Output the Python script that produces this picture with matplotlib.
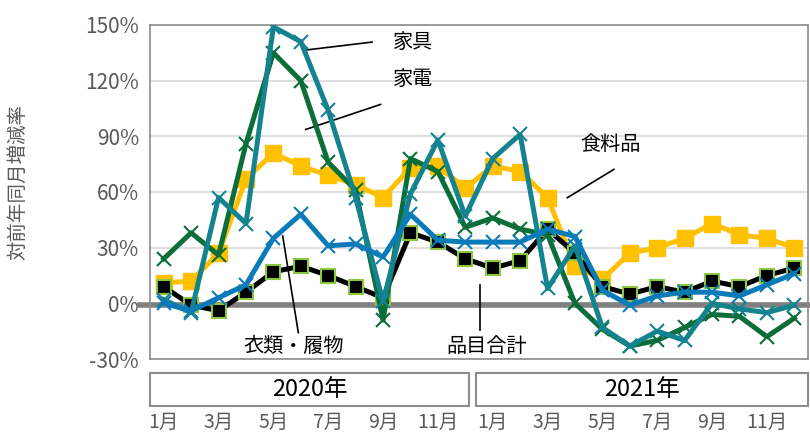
import numpy as np
import matplotlib
matplotlib.use('Agg')
from matplotlib import pyplot as plt
from matplotlib.patches import Rectangle

plt.rcParams['font.family'] = ['Noto Sans CJK JP', 'DejaVu Sans']

months = ['1月', '2月', '3月', '4月', '5月', '6月', '7月', '8月', '9月', '10月', '11月', '12月'] * 2
years = ['2020年', '2021年']

# 対前年同月増減率 (%)
food = [11, 12, 27, 67, 81, 74, 69, 64, 57, 73, 74, 62,
        74, 71, 57, 20, 13, 27, 30, 35, 43, 37, 35, 30]
total = [9, -1, -4, 6, 17, 20, 15, 9, 3, 38, 33, 24,
         19, 23, 40, 27, 9, 5, 9, 6, 12, 9, 15, 19]
appliance = [24, 38, 26, 86, 135, 120, 76, 61, -9, 78, 71, 41,
             46, 40, 37, 0, -14, -23, -20, -13, -6, -7, -18, -8]
furniture = [2, -5, 57, 43, 149, 141, 104, 57, 1, 59, 88, 47,
             78, 91, 8, 31, -13, -23, -15, -20, 0, -3, -5, -1]
clothing = [0, -4, 3, 10, 35, 48, 31, 32, 25, 48, 34, 33,
            33, 33, 40, 36, 7, -1, 4, 6, 6, 4, 10, 16]

x = np.arange(len(months))

fig = plt.figure(figsize=(8.1, 4.33), dpi=100)
ax = fig.add_axes([150/810, 1-359/433, 658/810, 334/433])

ax.plot(x, food, color='#FFC000', lw=3.6, marker='s', ms=11, mec='#FFC000', zorder=3)
ax.plot(x, total, color='black', lw=3.6, marker='s', ms=9.5, mec='#8CC63F', mew=1.5, zorder=4)
ax.plot(x, appliance, color='#0B6E38', lw=3.6, marker='x', ms=10, mew=1.5, zorder=5)
ax.plot(x, furniture, color='#14838F', lw=3.6, marker='x', ms=10, mew=1.5, zorder=6)
ax.plot(x, clothing, color='#0A7BB8', lw=3.6, marker='x', ms=10, mew=1.5, zorder=7)

ax.set_xlim(-0.5, len(months)-0.5)
ax.set_ylim(-30, 150)
yt = np.arange(-30, 151, 30)
ax.set_yticks(yt)
ax.set_yticklabels([f'{v}%' for v in yt], color='#595959', fontsize=15)
ax.tick_params(axis='y', length=0, pad=8)
ax.set_xticks([])
ax.grid(axis='y', color='#D9D9D9', lw=1.2, zorder=0)
# thick zero line, reaching a little past the left edge
ax.plot([-0.85, len(months)-0.5], [-1, -1], color='#808080', lw=4, zorder=2, clip_on=False)
for s in ax.spines.values():
    s.set_color('#8C8C8C')
    s.set_linewidth(1.2)
fig.text(18/810, 1-182/433, '対前年同月増減率', rotation=90, color='#595959',
         fontsize=14, ha='center', va='center')

# month labels and year boxes
xt = ax.get_xaxis_transform()
for i in range(0, len(months), 2):
    ax.text(x[i], -0.19, months[i], transform=xt,
            ha='center', va='center', fontsize=14, color='#595959')
bounds = [(-0.5, 11.13), (11.39, 23.5)]
for (x0, x1), yname in zip(bounds, years):
    ax.add_patch(Rectangle((x0, -0.141), x1-x0, 0.099, transform=xt,
                           clip_on=False, fill=False, ec='#8C8C8C', lw=1.5))
    ax.text((x0+x1)/2, -0.092, yname, transform=xt,
            ha='center', va='center', fontsize=17)

# series labels with leader lines
ann = dict(fontsize=14.5, color='black', ha='center', va='center')
ax.text(9.1, 140.8, '家具', **ann)
ax.plot([5.18, 7.6], [136.5, 140.8], color='black', lw=1.2)
ax.text(9.1, 120.4, '家電', **ann)
ax.plot([5.18, 7.91], [93.7, 107.2], color='black', lw=1.2)
ax.text(16.3, 85.8, '食料品', **ann)
ax.plot([14.72, 16.42], [56.9, 72.2], color='black', lw=1.2)
ax.text(4.72, -23, '衣類・履物', **ann)
ax.plot([4.34, 4.91], [36.3, -15.8], color='black', lw=1.2)
ax.text(11.79, -23, '品目合計', **ann)
ax.plot([11.52, 11.52], [9.9, -14.3], color='black', lw=1.2)

fig.savefig('out.png', dpi=100)
